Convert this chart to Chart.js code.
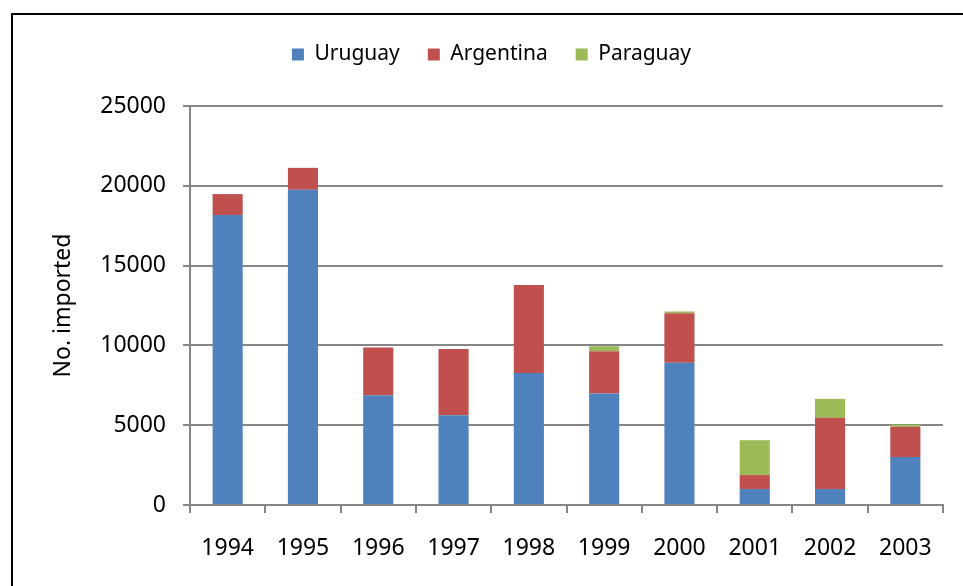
<!DOCTYPE html>
<html>
<head>
<meta charset="utf-8">
<script src="https://cdn.jsdelivr.net/npm/chart.js@4/dist/chart.umd.min.js"></script>
<style>
  html, body { margin: 0; padding: 0; background: #fff; }
  #wrap { width: 963px; height: 586px; position: relative; }
</style>
</head>
<body>
<div id="wrap"><canvas id="myChart" width="963" height="586"></canvas></div>
<script>
// years on the x axis
const years = ['1994', '1995', '1996', '1997', '1998', '1999', '2000', '2001', '2002', '2003']
// imports by origin (stacked)
const uruguay = [18170, 19750, 6880, 5620, 8270, 6980, 8920, 1000, 1000, 3000]
const argentina = [1310, 1375, 2995, 4150, 5520, 2660, 3100, 875, 4460, 1900]
const paraguay = [0, 0, 0, 0, 0, 310, 105, 2185, 1190, 140]
const yTicks = [0, 5000, 10000, 15000, 20000, 25000]

const font = "'Noto Sans', 'Open Sans', sans-serif"
const gridGray = '#868686'

// black frame lines along top and left edge
const framePlugin = {
  id: 'frame',
  beforeLayout (chart) {
    // extra room between legend and plot
    const lg = chart.legend
    if (lg && !lg._spaced) {
      const fit = lg.fit.bind(lg)
      lg.fit = function () { fit(); this.height += 31 }
      lg._spaced = true
    }
  },
  afterDraw (chart) {
    const c = chart.ctx
    c.save()
    c.strokeStyle = '#000'
    c.lineWidth = 2
    c.beginPath()
    c.moveTo(12, 586)
    c.lineTo(12, 14)
    c.lineTo(963, 14)
    c.stroke()
    c.restore()
  }
}

const ctx = document.getElementById('myChart')
const myChart = new Chart(ctx, {
  type: 'bar',
  data: {
    labels: years,
    datasets: [
      { label: 'Uruguay', data: uruguay, backgroundColor: '#4F81BD' },
      { label: 'Argentina', data: argentina, backgroundColor: '#C0504D' },
      { label: 'Paraguay', data: paraguay, backgroundColor: '#9BBB59' }
    ]
  },
  options: {
    responsive: false,
    animation: false,
    layout: {
      padding: { left: 40, right: 20, top: 16, bottom: 0 }
    },
    datasets: {
      bar: { barPercentage: 0.4, categoryPercentage: 1.0, borderWidth: 0 }
    },
    plugins: {
      legend: {
        position: 'top',
        labels: {
          boxWidth: 12,
          boxHeight: 12,
          padding: 28,
          color: '#000',
          font: { family: font, size: 21 }
        }
      },
      tooltip: { enabled: false }
    },
    scales: {
      x: {
        stacked: true,
        afterFit: s => { s.height = 81 },
        grid: {
          offset: true,
          drawOnChartArea: false,
          drawTicks: true,
          tickLength: 8,
          color: gridGray,
          lineWidth: 2
        },
        border: { color: gridGray, width: 2 },
        ticks: {
          color: '#000',
          padding: 22,
          font: { family: font, size: 23 }
        }
      },
      y: {
        stacked: true,
        min: 0,
        max: 25000,
        afterFit: s => { s.width = 150 },
        afterBuildTicks: s => { s.ticks = yTicks.map(v => ({ value: v })) },
        title: {
          display: true,
          text: 'No. imported',
          color: '#000',
          padding: { top: 10, bottom: 0 },
          font: { family: font, size: 23 }
        },
        grid: {
          color: gridGray,
          lineWidth: 2,
          tickLength: 7
        },
        border: { color: gridGray, width: 2 },
        ticks: {
          color: '#000',
          padding: 17,
          font: { family: font, size: 23 },
          callback: v => String(v)
        }
      }
    }
  },
  plugins: [framePlugin]
})
</script>
</body>
</html>
